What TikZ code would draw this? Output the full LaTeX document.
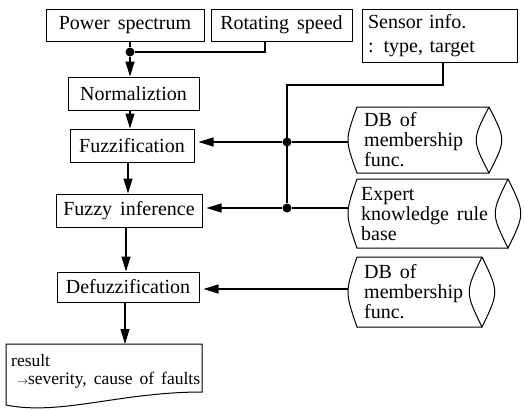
\documentclass[tikz,border=0pt]{standalone}
\usepackage{fontspec}
\setmainfont{Liberation Serif}[WordSpace=1.6]
\usetikzlibrary{arrows.meta}
\newcommand{\DBdrum}[4]{% L R T B
  \draw[line width=1pt] (#2,#3) -- (#1,#3) .. controls ({#1-12},{(#3+#4)/2}) .. (#1,#4) -- (#2,#4);
  \draw[line width=1pt] (#2,#3) .. controls ({#2-17},{(#3+#4)/2}) .. (#2,#4) .. controls ({#2+17},{(#3+#4)/2}) .. (#2,#3);
}
\tikzset{
  box/.style={draw, line width=1pt, inner sep=0pt, minimum height=33pt, font=\fontsize{20}{22}\selectfont},
  conn/.style={line width=1.3pt},
  arr/.style={conn, -{Triangle[length=15pt,width=9pt]}},
  harr/.style={arr, shorten >=4pt},
  jdot/.style={circle, fill, inner sep=0pt, minimum size=9pt},
  dbtext/.style={anchor=west, align=left, inner sep=0pt, font=\fontsize{20}{20}\selectfont},
}
\begin{document}
\begin{tikzpicture}[x=1pt,y=-1pt]
\useasboundingbox (0,0) rectangle (525,410);
% left column boxes
\node[box, minimum width=158pt, minimum height=32pt] (ps) at (125,25) {Power spectrum};
\node[box, minimum width=141pt, minimum height=32pt] (rs) at (281.5,25) {Rotating speed};
\node[box, minimum width=155pt, minimum height=53pt, inner xsep=6pt, text width=143pt, align=left, font=\fontsize{20}{24}\selectfont] (si) at (439.5,35.5) {Sensor info.\\: type, target};
\node[box, minimum width=131pt] (norm) at (133.5,93.5) {Normaliztion};
\node[box, minimum width=124pt] (fuzz) at (132,145.5) {Fuzzification};
\node[box, minimum width=146pt] (inf) at (129,210.5) {Fuzzy inference};
\node[box, minimum width=142pt, minimum height=30pt] (defuzz) at (128,287) {Defuzzification};
% result document shape
\draw[line width=1pt] (6,344) -- (202,344) -- (202,392) .. controls (120,392) and (60,416) .. (6,405) -- cycle;
\coordinate (rtop) at (125,344);
\node[anchor=north west, align=left, inner sep=0pt, font=\fontsize{17.5}{18}\selectfont] (restext) at (11,354)
  {result\\\hspace*{6pt}{\fontsize{11}{11}\selectfont$\rightarrow$}severity, cause of faults};
% junction and vertical arrows
\node[jdot] (j1) at (130,52) {};
\coordinate (rsb) at (265,52);
\draw[conn] (ps.south -| j1) -- (j1);
\draw[conn] (rs.south -| rsb) -- (rsb) -- (j1);
\draw[arr] (j1) -- (norm.north -| j1);
\coordinate (x1) at (130,0);
\coordinate (x2) at (128,0);
\coordinate (x3) at (126,0);
\coordinate (x4) at (125,0);
\draw[arr] (norm.south -| x1) -- (fuzz.north -| x1);
\draw[arr] (fuzz.south -| x2) -- (inf.north -| x2);
\draw[arr] (inf.south -| x3) -- (defuzz.north -| x3);
\draw[arr] (defuzz.south -| x4) -- (rtop);
% data bases
\DBdrum{357}{489}{107}{173}
\DBdrum{357}{508}{179}{248}
\DBdrum{357}{482}{257}{327}
\node[dbtext] (db1t) at (364,140) {DB of\\membership\\func.};
\node[dbtext] (ext) at (361,214) {Expert\\knowledge rule\\base};
\node[dbtext] (db2t) at (364,292) {DB of\\membership\\func.};
\coordinate (db1l) at (348,142);
\coordinate (exl) at (348,208);
\coordinate (db2l) at (348,289);
% sensor connectors
\coordinate (s1) at (443,85);
\coordinate (c1) at (287,85);
\node[jdot] (d1) at (287,142) {};
\node[jdot] (d2) at (287,208) {};
\draw[conn] (si.south -| s1) -- (s1) -- (c1) -- (d2);
\draw[conn] (db1l) -- (d1);
\draw[harr] (d1) -- (fuzz.east |- d1);
\draw[conn] (exl) -- (d2);
\draw[harr] (d2) -- (inf.east |- d2);
\draw[harr] (db2l) -- (defuzz.east |- db2l);
\end{tikzpicture}
\end{document}
